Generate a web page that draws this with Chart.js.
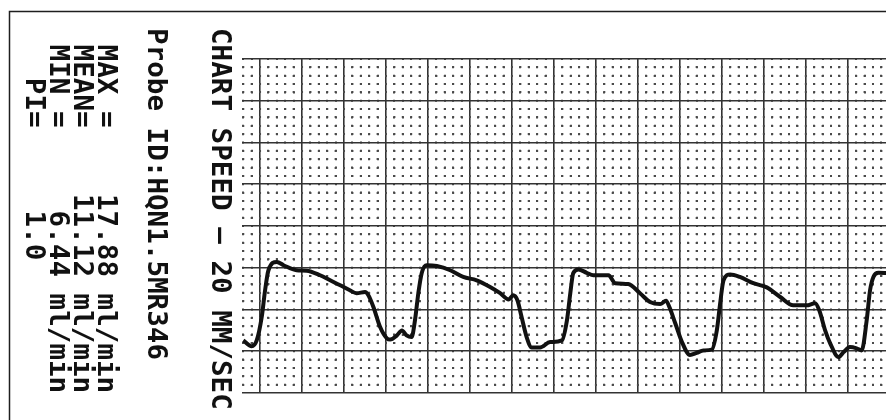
<!DOCTYPE html>
<html>
<head>
<meta charset="utf-8">
<title>Flow probe printout</title>
<script src="https://cdn.jsdelivr.net/npm/chart.js@4.4.0/dist/chart.umd.min.js"></script>
<style>
    html, body { margin: 0; padding: 0; background: #fff; }
    #wrap { width: 886px; height: 420px; position: relative; }
</style>
</head>
<body>
<div id="wrap"><canvas id="chart"></canvas></div>
<script>
// Trace, both axes in major chart divisions
const timeDiv = [
    -0.40, -0.20, -0.08, 0.04, 0.12, 0.20, 0.40, 0.56,
    0.87, 1.11, 1.43, 1.67, 1.91, 2.14, 2.30, 2.50,
    2.58, 2.70, 2.86, 3.02, 3.10, 3.26, 3.38, 3.49,
    3.61, 3.69, 3.77, 3.85, 3.97, 4.21, 4.53, 4.84,
    5.16, 5.48, 5.72, 5.92, 6.03, 6.13, 6.23, 6.35,
    6.47, 6.67, 6.91, 7.19, 7.31, 7.39, 7.46, 7.58,
    7.78, 7.94, 8.30, 8.46, 8.77, 9.05, 9.29, 9.53,
    9.67, 9.75, 9.89, 10.05, 10.24, 10.40, 10.56, 10.76,
    10.88, 10.96, 11.04, 11.20, 11.43, 11.75, 12.07, 12.39,
    12.70, 13.02, 13.22, 13.32, 13.46, 13.58, 13.78, 13.90,
    14.05, 14.21, 14.33, 14.45, 14.53, 14.61, 14.73, 14.95
];
const flowDiv = [
    1.26, 1.12, 1.26, 1.82, 2.46, 2.94, 3.14, 3.06,
    2.94, 2.93, 2.82, 2.70, 2.58, 2.46, 2.39, 2.42,
    2.34, 2.06, 1.58, 1.31, 1.28, 1.38, 1.50, 1.38,
    1.34, 1.74, 2.39, 2.87, 3.06, 3.04, 2.94, 2.78,
    2.70, 2.54, 2.39, 2.24, 2.34, 2.22, 1.82, 1.34,
    1.09, 1.09, 1.22, 1.26, 1.74, 2.39, 2.87, 2.96,
    2.88, 2.82, 2.82, 2.63, 2.61, 2.39, 2.18, 2.13,
    2.21, 2.06, 1.67, 1.22, 0.91, 0.96, 1.02, 1.04,
    1.50, 2.15, 2.70, 2.84, 2.78, 2.63, 2.53, 2.30,
    2.10, 2.10, 2.15, 1.98, 1.50, 1.19, 0.86, 0.98,
    1.10, 1.07, 1.02, 1.74, 2.46, 2.78, 2.88, 2.87
];

// major grid lines (divisions); minor dots are 5 per division
const majorX = [0, 1, 2, 3, 4, 5, 6, 7, 8, 9, 10, 11, 12, 13, 14];
const majorY = [0, 1, 2, 3, 4, 5, 6, 7, 8];
const xRange = [-0.43, 14.91];
const yRange = [0, 8];

const headerLines = ['CHART SPEED \u2014 20 MM/SEC', 'Probe ID:HQN1.5MR346'];
const statLines = [
    ' MAX =    17.88 ml/min',
    ' MEAN=    11.12 ml/min',
    ' MIN =     6.44 ml/min',
    '   PI=     1.0'
];

const DOT = 2;

// major + minor tick objects for a grid axis
function gridTicks(majors, min, max) {
    const out = [];
    for (let m = majors[0] - 1; m <= majors[majors.length - 1]; m++) {
        for (let k = 0; k < 5; k++) {
            const v = Math.round((m + k / 5) * 1000) / 1000;
            if (v < min - 1e-6 || v > max + 1e-6) continue;
            out.push({ value: v, main: k === 0 });
        }
    }
    return out;
}

// dash offset so the dots land on the other axis' minor positions
function dotOffset(otherScale, start) {
    const step = Math.abs(otherScale.getPixelForValue(0.2) - otherScale.getPixelForValue(0));
    const first = Math.abs(otherScale.getPixelForValue(0) - start) % step;
    return DOT / 2 - first;
}

function gridFor(axis) {
    return {
        drawTicks: false,
        color: c => c.tick && c.tick.main ? '#333' : '#4a4a4a',
        lineWidth: c => c.tick && c.tick.main ? 1.6 : 2
    };
}

function borderFor(axis) {
    return {
        display: false,
        dash: c => {
            if (!c.tick || c.tick.main) return [];
            const other = axis === 'x' ? c.chart.scales.y : c.chart.scales.x;
            const step = Math.abs(other.getPixelForValue(0.2) - other.getPixelForValue(0));
            return [DOT, step - DOT];
        },
        dashOffset: c => {
            if (!c.tick || c.tick.main) return 0;
            const area = c.chart.chartArea;
            return axis === 'x'
                ? dotOffset(c.chart.scales.y, area.top)
                : dotOffset(c.chart.scales.x, area.left);
        }
    };
}

const printout = {
    id: 'printout',
    afterDraw(chart) {
        const ctx = chart.ctx;
        ctx.save();
        // paper frame, top and left
        ctx.strokeStyle = '#1e1e1e';
        ctx.lineWidth = 1.5;
        ctx.beginPath();
        ctx.moveTo(9.5, chart.height);
        ctx.lineTo(9.5, 11.5);
        ctx.lineTo(chart.width, 11.5);
        ctx.stroke();

        ctx.font = 'bold 26px "DejaVu Sans Mono"';
        ctx.fillStyle = '#111';
        ctx.textBaseline = 'alphabetic';
        const sx = 16.6 / ctx.measureText('M').width;
        const columns = [212, 148, 98, 74, 50, 26];
        headerLines.concat(statLines).forEach((text, i) => {
            ctx.save();
            ctx.translate(columns[i], 28);
            ctx.rotate(Math.PI / 2);
            ctx.scale(sx, 1);
            ctx.fillText(text, 0, 0);
            ctx.restore();
        });
        ctx.restore();
    }
};

new Chart(document.getElementById('chart'), {
    type: 'line',
    data: {
        datasets: [{
            data: timeDiv.map((t, i) => ({ x: t, y: flowDiv[i] })),
            borderColor: '#111',
            borderWidth: 4,
            pointRadius: 0,
            cubicInterpolationMode: 'monotone',
            fill: false
        }]
    },
    options: {
        responsive: true,
        maintainAspectRatio: false,
        animation: false,
        layout: { padding: { left: 242, top: 59, right: 0, bottom: 27 } },
        plugins: { legend: { display: false }, tooltip: { enabled: false } },
        scales: {
            x: {
                type: 'linear',
                min: xRange[0],
                max: xRange[1],
                ticks: { display: false },
                grid: gridFor('x'),
                border: borderFor('x'),
                afterBuildTicks: s => { s.ticks = gridTicks(majorX, xRange[0], xRange[1]); }
            },
            y: {
                type: 'linear',
                min: yRange[0],
                max: yRange[1],
                ticks: { display: false },
                grid: gridFor('y'),
                border: borderFor('y'),
                afterBuildTicks: s => { s.ticks = gridTicks(majorY, yRange[0], yRange[1]); }
            }
        }
    },
    plugins: [printout]
});
</script>
</body>
</html>
